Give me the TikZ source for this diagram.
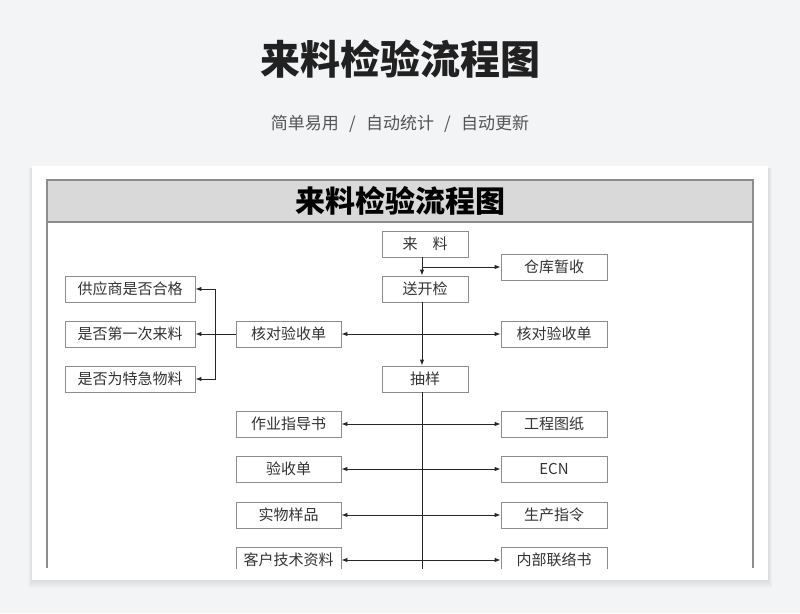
\documentclass[tikz,border=0pt]{standalone}
\usepackage{fontspec}
\setmainfont{Noto Sans CJK SC}
\usetikzlibrary{arrows.meta}
\definecolor{pagebg}{HTML}{F3F4F6}
\definecolor{framegray}{HTML}{8C8C8C}
\definecolor{headfill}{HTML}{D9D9D9}
\tikzset{
  box/.style={rectangle, draw=framegray, line width=0.9pt, fill=white, minimum width=106pt,
    minimum height=26pt, inner sep=0pt, font=\fontsize{15}{17}\selectfont, text=black!80},
  midbox/.style={box, minimum width=86pt},
  leftbox/.style={box, minimum width=130pt},
  link/.style={line width=0.9pt, draw=black!85},
  flow/.style={link, -{Latex[length=6pt,width=4.5pt]}},
  both/.style={link, {Latex[length=6pt,width=4.5pt]}-{Latex[length=6pt,width=4.5pt]}},
}
\begin{document}
\begin{tikzpicture}[x=1pt,y=-1pt]
  \fill[pagebg] (0,0) rectangle (800,613);
  \foreach \i in {1,...,8}
    \fill[black, opacity=0.012] (32-\i/2,168) rectangle (768+\i/2,580+\i);
  \fill[white] (32,166) rectangle (768,580);
  \node[font=\fontsize{40}{44}\selectfont\bfseries, text=black!87] (title) at (400,59) {来料检验流程图};
  \node[font=\fontsize{17}{20}\selectfont, text=black!67] (sub) at (400,124)
    {简单易用\hspace{0.6em}/\hspace{0.6em}自动统计\hspace{0.6em}/\hspace{0.6em}自动更新};
  \fill[headfill] (47,180) rectangle (753,222);
  \draw[framegray, line width=1.3pt] (47,568) -- (47,180) -- (753,180) -- (753,568);
  \draw[framegray, line width=1.3pt] (47,222) -- (753,222);
  \node[font=\fontsize{30}{34}\selectfont\bfseries] (head) at (400,201) {来料检验流程图};
  \begin{scope}
    \clip (47,223) rectangle (753,568);
    \node[midbox] (lai) at (425,244) {来\hspace{1em}料};
    \node[midbox] (song) at (425,289) {送开检};
    \node[midbox] (chou) at (425,379) {抽样};
    \node[box] (cang) at (554,267) {仓库暂收};
    \node[box, minimum width=105pt] (hdL) at (288.5,334) {核对验收单};
    \node[box] (hdR) at (554,334) {核对验收单};
    \node[leftbox] (gys) at (130,289) {供应商是否合格};
    \node[leftbox] (dyc) at (130,334) {是否第一次来料};
    \node[leftbox] (tj) at (130,379) {是否为特急物料};
    \coordinate (spine) at (422,244);
    \draw[flow] (spine |- lai.south) -- (spine |- song.north);
    \draw[flow] (spine |- cang) -- (cang.west);
    \draw[flow] (spine |- song.south) -- (spine |- chou.north);
    \draw[both] (hdL) -- (hdR);
    \coordinate (br) at (215.5,334);
    \draw[link] (hdL.west) -- (br);
    \draw[link] (br |- gys) -- (br |- tj);
    \foreach \n in {gys,dyc,tj}
      \draw[flow] (br |- \n) -- (\n.east);
    \coordinate (bot) at (422,580);
    \draw[link] (spine |- chou.south) -- (bot);
    \foreach \y/\a/\b/\l/\r in {424/zy/gc/作业指导书/工程图纸, 469/ys/ecn/验收单/ECN,
        515/sw/sc/实物样品/生产指令, 560/kh/nb/客户技术资料/内部联络书} {
      \node[box, minimum width=105pt] (\a) at (288.5,\y) {\l};
      \node[box] (\b) at (554,\y) {\r};
      \draw[both] (\a) -- (\b);
    }
  \end{scope}
\end{tikzpicture}
\end{document}
